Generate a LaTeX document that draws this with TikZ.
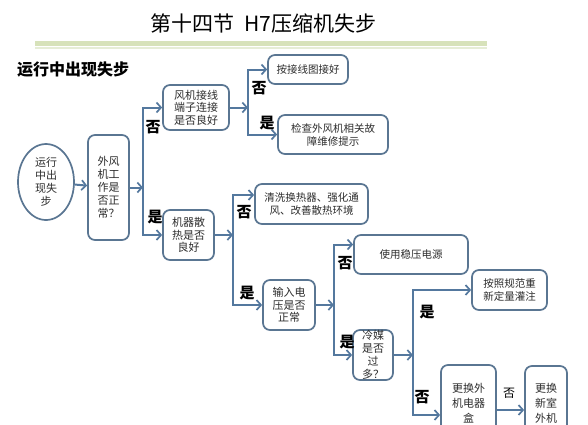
\documentclass[tikz,border=0pt]{standalone}
\usepackage{fontspec}
\setmainfont{Noto Sans CJK SC}
\newfontfamily\cjk{Noto Sans CJK SC}
\usetikzlibrary{arrows.meta,shapes.geometric}
\definecolor{bc}{RGB}{90,118,146}
\definecolor{ac}{RGB}{84,120,158}
\definecolor{tc}{RGB}{45,45,45}
\definecolor{band}{RGB}{215,226,186}
\definecolor{bandlight}{RGB}{230,237,214}
\tikzset{
  box/.style={draw=bc, line width=1.7pt, rounded corners=7pt, fill=white, align=center,
    inner sep=1pt, text=tc, font=\cjk\fontsize{10.5}{13}\selectfont},
  oval/.style={ellipse, draw=bc, line width=1.7pt, fill=white, align=center,
    inner sep=0pt, text=tc, font=\cjk\fontsize{11}{13}\selectfont},
  arr/.style={draw=ac, line width=2pt, -{Straight Barb[length=4.5pt,width=10pt,line width=1.7pt]}},
  lbl/.style={font=\cjk\bfseries\fontsize{15}{15}\selectfont, text=black, inner sep=0pt},
}
\begin{document}
\begin{tikzpicture}[x=1pt,y=-1pt]
\useasboundingbox[fill=white] (0,0) rectangle (588,424);
\clip (0,0) rectangle (588,424);
% title
\node[font=\cjk\fontsize{21}{22}\selectfont, text=black, inner sep=0pt] (title) at (263.5,23) {第十四节\ \ H7压缩机失步};
\fill[band] (35,41) rectangle (487,46);
\fill[bandlight] (35,47) rectangle (487,48.5);
\node[font=\cjk\bfseries\fontsize{16}{16}\selectfont, text=black, anchor=west, inner sep=0pt] (sub) at (17,69.5) {运行中出现失步};

% nodes
\node[oval, minimum width=56pt, minimum height=76pt] (e1) at (46,182) {运行\\中出\\现失\\步};
\node[box, minimum width=41pt, minimum height=105pt, font=\cjk\fontsize{11}{13}\selectfont] (b2) at (108.5,187.5) {外风\\机工\\作是\\否正\\常？};
\node[box, minimum width=66pt, minimum height=45pt, font=\cjk\fontsize{11}{12.5}\selectfont] (b3) at (196,107.5) {风机接线\\端子连接\\是否良好};
\node[box, minimum width=51pt, minimum height=50pt, font=\cjk\fontsize{11}{12.5}\selectfont] (b4) at (188.5,235) {机器散\\热是否\\良好};
\node[box, minimum width=80pt, minimum height=29pt] (b5) at (308,69.5) {按接线图接好};
\node[box, minimum width=110pt, minimum height=39pt] (b6) at (333,134.5) {检查外风机相关故\\障维修提示};
\node[box, minimum width=113pt, minimum height=40pt] (b7) at (311.5,204) {清洗换热器、强化通\\风、改善散热环境};
\node[box, minimum width=52pt, minimum height=50pt, font=\cjk\fontsize{11}{12.5}\selectfont] (b8) at (289,305) {输入电\\压是否\\正常};
\node[box, minimum width=114pt, minimum height=39pt] (b9) at (411,254.5) {使用稳压电源};
\node[box, minimum width=40pt, minimum height=50pt, inner sep=0pt, font=\cjk\fontsize{11}{12.8}\selectfont] (b10) at (373,355) {冷媒\\是否\\过\\多？};
\node[box, minimum width=75pt, minimum height=40pt] (b11) at (509.5,290) {按照规范重\\新定量灌注};
\node[box, minimum width=55pt, minimum height=76pt, font=\cjk\fontsize{11}{15}\selectfont] (b12) at (468.5,403) {更换外\\机电器\\盒};
\node[box, minimum width=42pt, minimum height=74pt, font=\cjk\fontsize{11}{15}\selectfont] (b13) at (546,403) {更换\\新室\\外机};

% junction points
\coordinate (j1) at (143,187.5);
\coordinate (j2) at (248,107.5);
\coordinate (j3) at (233,235);
\coordinate (j4) at (334,305);
\coordinate (j5) at (413,355);

% connectors
\draw[arr] (e1) -- (b2);
\draw[arr] (b2.east) -- (j1);
\draw[arr] (j1) |- (b3.west);
\draw[arr] (j1) |- (b4.west);
\draw[arr] (b3.east) -- (j2);
\draw[arr] (j2) |- (b5.west);
\draw[arr] (j2) |- (b6.west);
\draw[arr] (b4.east) -- (j3);
\draw[arr] (j3) |- ([yshift=9pt]b7.west);
\draw[arr] (j3) |- (b8.west);
\draw[arr] (b8.east) -- (j4);
\draw[arr] (j4) |- ([yshift=10pt]b9.west);
\draw[arr] (j4) |- (b10.west);
\draw[arr] (b10.east) -- (j5);
\draw[arr] (j5) |- (b11.west);
\draw[arr] (j5) |- ([yshift=-12pt]b12.west);
\draw[arr] ([yshift=-7pt]b12.east) -- ([yshift=-7pt]b13.west);

% labels
\node[lbl] (l1) at (153,127) {否};
\node[lbl] (l2) at (155,217) {是};
\node[lbl] (l3) at (259,88) {否};
\node[lbl] (l4) at (267,123) {是};
\node[lbl] (l5) at (244,212) {否};
\node[lbl] (l6) at (247,293) {是};
\node[lbl] (l7) at (345,263) {否};
\node[lbl] (l8) at (347,342) {是};
\node[lbl] (l9) at (427,312) {是};
\node[lbl] (l10) at (422,397) {否};
\node[lbl, font=\cjk\fontsize{12}{12}\selectfont] (l11) at (509,393) {否};
\end{tikzpicture}
\end{document}
